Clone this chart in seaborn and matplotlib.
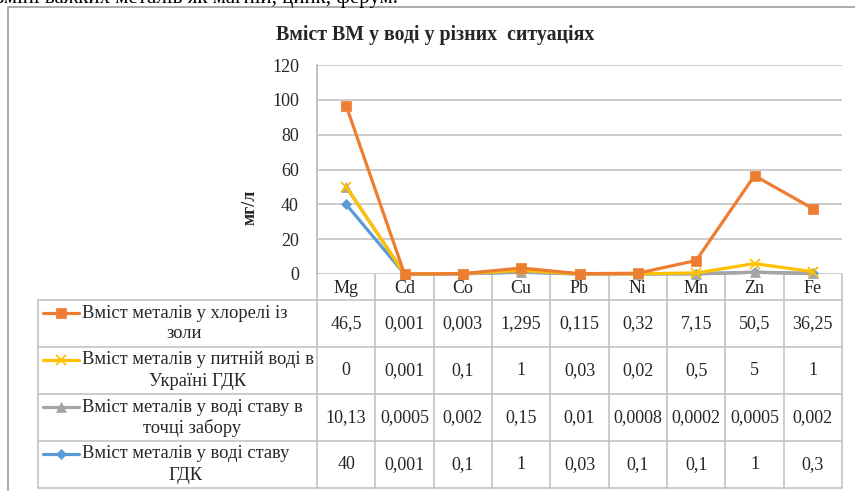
import numpy as np
import pandas as pd
import matplotlib
matplotlib.use('Agg')
import matplotlib.pyplot as plt
import seaborn as sns

# Table values (what the data table shows); the chart is a stacked line chart
metals = ['Mg', 'Cd', 'Co', 'Cu', 'Pb', 'Ni', 'Mn', 'Zn', 'Fe']
chlorella = [46.5, 0.001, 0.003, 1.295, 0.115, 0.32, 7.15, 50.5, 36.25]
drinking_mpc = [0, 0.001, 0.1, 1, 0.03, 0.02, 0.5, 5, 1]
pond_intake = [10.13, 0.0005, 0.002, 0.15, 0.01, 0.0008, 0.0002, 0.0005, 0.002]
pond_mpc = [40, 0.001, 0.1, 1, 0.03, 0.1, 0.1, 1, 0.3]

legend_lines = [
    ('Вміст металів у хлорелі із', 'золи'),
    ('Вміст металів у питній воді в', 'Україні ГДК'),
    ('Вміст металів у воді ставу в', 'точці забору'),
    ('Вміст металів у воді ставу', 'ГДК'),
]
series_values = [chlorella, drinking_mpc, pond_intake, pond_mpc]
colors = ['#ED7D31', '#FFC000', '#A5A5A5', '#5B9BD5']
markers = ['s', 'x', '^', 'D']
msizes = [6.5, 7, 6.5, 5]

sns.set_style('white')
plt.rcParams['font.family'] = ['Liberation Serif', 'DejaVu Serif']

grid_col = '#BFBFBF'
W, H = 855, 491
fig = plt.figure(figsize=(W / 100, H / 100), dpi=100)

# background axes in pixel coordinates for the frame, title and data table
bg = fig.add_axes([0, 0, 1, 1])
bg.set_xlim(0, W)
bg.set_ylim(H, 0)
bg.axis('off')

# chart frame and the cut-off line of text above it
bg.plot([8, 8, W + 2], [H + 2, 7, 7], color='#A0A0A0', lw=1.2)
bg.text(-4, 3, 'зміні важких металів як магній, цинк, ферум.', fontsize=15,
        va='baseline', ha='left', color='black')
bg.text(435, 35, 'Вміст ВМ у воді у різних  ситуаціях', fontsize=14.3,
        fontweight='bold', ha='center', va='center')

# plot area
x0, x1, y_top, y_zero = 317, 842, 65, 274
ax = fig.add_axes([x0 / W, 1 - y_zero / H, (x1 - x0) / W, (y_zero - y_top) / H])

# stacked line: last table row at the bottom
stack_order = [3, 2, 1, 0]
running = np.zeros(len(metals))
for i in stack_order:
    running = running + np.array(series_values[i])
    df = pd.DataFrame({'metal': metals, 'value': running})
    sns.lineplot(data=df, x='metal', y='value', ax=ax, sort=False, color=colors[i],
                 lw=2.3, marker=markers[i], markersize=msizes[i],
                 markeredgecolor=colors[i], markeredgewidth=1.3 if markers[i] == 'x' else 0.5,
                 clip_on=False, zorder=3 + stack_order.index(i))

ax.set_xlim(-0.5, len(metals) - 0.5)
ax.set_ylim(0, 120)
ax.set_yticks(range(0, 121, 20))
ax.set_xticks(range(len(metals)), metals)
ax.tick_params(axis='y', length=0, pad=13, labelsize=13)
ax.tick_params(axis='x', length=0, pad=4, labelsize=13)
ax.grid(axis='y', color=grid_col, lw=1.1)
ax.grid(axis='x', visible=False)
for s in ['top', 'right', 'bottom']:
    ax.spines[s].set_visible(False)
ax.spines['left'].set_color(grid_col)
ax.spines['left'].set_linewidth(1.1)
ax.set_xlabel('')
ax.set_ylabel('мг/л', fontsize=13, fontweight='bold')
ax.yaxis.set_label_coords(-0.112, 0.32)
ax.set_facecolor('none')

# data table
left_col, head_bot, row_h = 38, 300, 47
col_w = (x1 - x0) / len(metals)
rows_top = [head_bot + k * row_h for k in range(len(legend_lines))]
bottom = head_bot + row_h * len(legend_lines)
lkw = dict(color=grid_col, lw=1.1)
bg.plot([x1, x1], [y_zero, bottom], **lkw)
bg.plot([left_col, left_col], [head_bot, bottom], **lkw)
for k in range(len(metals)):
    xx = x0 + k * col_w
    bg.plot([xx, xx], [y_top if k == 0 else y_zero, bottom], **lkw)
for yy in rows_top + [bottom]:
    bg.plot([left_col, x1], [yy, yy], **lkw)

fig.canvas.draw()
renderer = fig.canvas.get_renderer()
for r, (vals, lines, col, mk, ms) in enumerate(zip(series_values, legend_lines, colors, markers, msizes)):
    yc = rows_top[r] + row_h / 2
    bg.plot([43, 79], [yc - 10.5, yc - 10.5], color=col, lw=2.3)
    bg.plot([61], [yc - 10.5], color=col, marker=mk, markersize=ms,
            markeredgecolor=col, markeredgewidth=1.3 if mk == 'x' else 0.5)
    t1 = bg.text(82, yc - 10.5, lines[0], fontsize=13.3, ha='left', va='center')
    bb = t1.get_window_extent(renderer)
    bg.text((bb.x0 + bb.x1) / 2, yc + 10.5, lines[1], fontsize=13.3, ha='center', va='center')
    for k, v in enumerate(vals):
        label = f'{v:g}'.replace('.', ',')
        bg.text(x0 + (k + 0.5) * col_w, yc, label, fontsize=13, ha='center', va='center')

fig.savefig('out.png', dpi=100)
